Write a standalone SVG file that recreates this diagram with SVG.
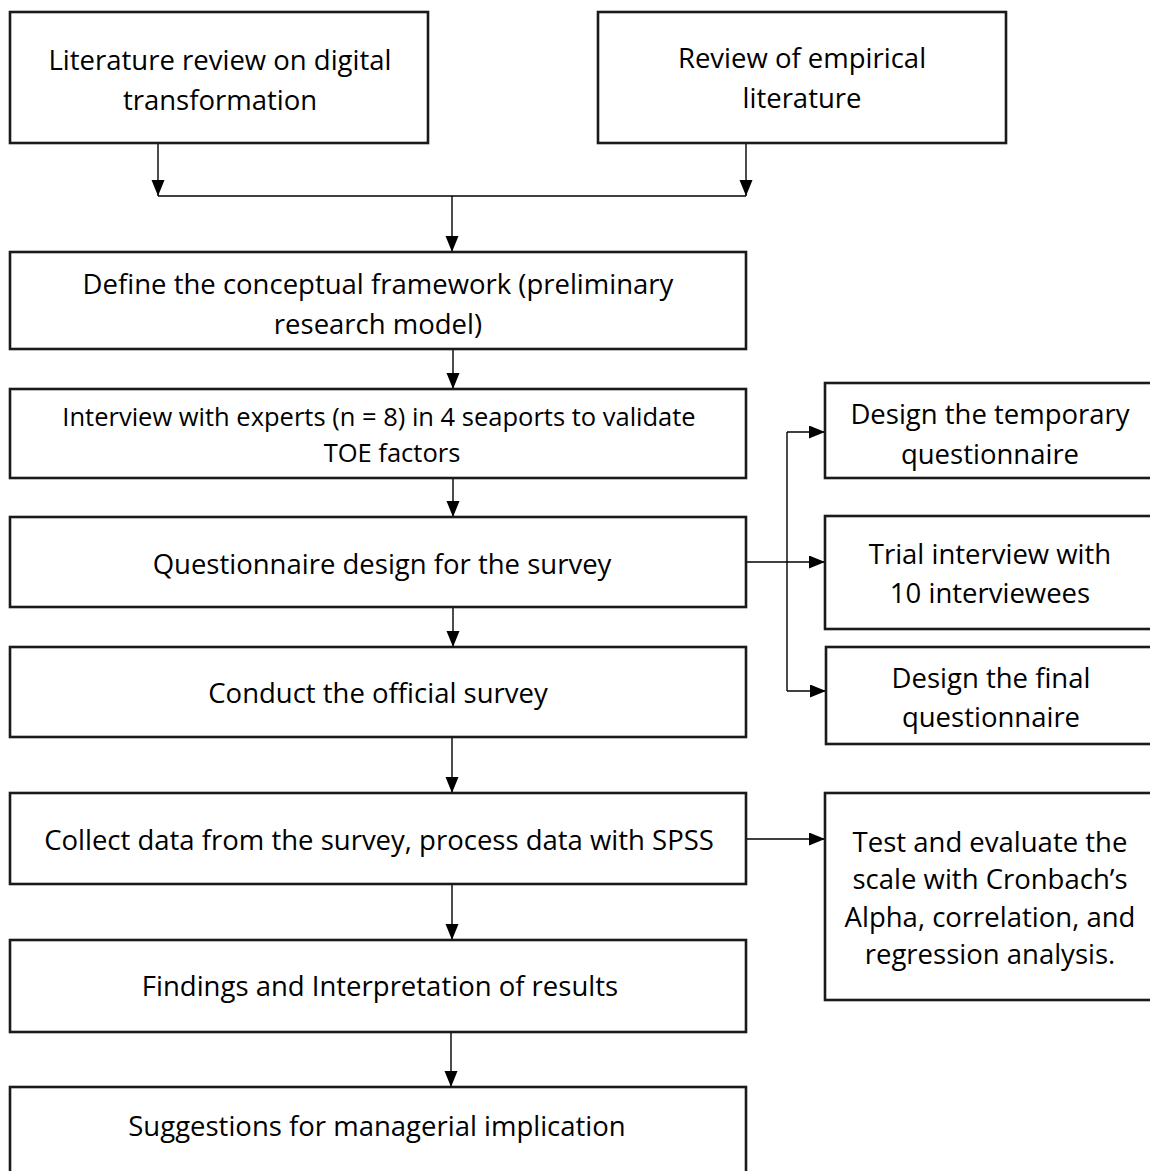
<svg xmlns="http://www.w3.org/2000/svg" width="1150" height="1171" viewBox="0 0 1150 1171">
<style>
  .box { fill: #ffffff; stroke: #1a1a1a; stroke-width: 2.6; }
  .t { font-family: "Open Sans", "Noto Sans", "Liberation Sans", sans-serif; font-size: 27.5px; fill: #000; text-anchor: middle; }
  .ts { font-size: 25.5px; }
  .c { fill: none; stroke: #000; stroke-width: 1.4; }
  .ca { fill: none; stroke: #000; stroke-width: 1.4; marker-end: url(#ah); }
</style>
<defs>
  <marker id="ah" markerUnits="userSpaceOnUse" markerWidth="17" markerHeight="14" refX="16" refY="6.5" orient="auto">
    <path d="M0,0 L16,6.5 L0,13 z" fill="#000"/>
  </marker>
</defs>
<rect width="1150" height="1171" fill="#ffffff"/>

<g id="connectors">
  <line class="ca" x1="158" y1="143" x2="158" y2="196"/>
  <line class="ca" x1="746" y1="143" x2="746" y2="196"/>
  <line class="c" x1="158" y1="196" x2="746" y2="196"/>
  <line class="ca" x1="452" y1="196" x2="452" y2="252"/>
  <line class="ca" x1="453" y1="349" x2="453" y2="389"/>
  <line class="ca" x1="453" y1="478" x2="453" y2="517"/>
  <line class="ca" x1="453" y1="607" x2="453" y2="647"/>
  <line class="ca" x1="452" y1="737" x2="452" y2="793"/>
  <line class="ca" x1="452" y1="884" x2="452" y2="940"/>
  <line class="ca" x1="451" y1="1032" x2="451" y2="1087"/>
  <line class="ca" x1="746" y1="562" x2="825" y2="562"/>
  <line class="c" x1="787" y1="432" x2="787" y2="691"/>
  <line class="ca" x1="787" y1="432" x2="825" y2="432"/>
  <line class="ca" x1="787" y1="691" x2="826" y2="691"/>
  <line class="ca" x1="746" y1="839" x2="825" y2="839"/>
</g>

<g id="node-lit-review">
  <rect class="box" x="10" y="12" width="418" height="131"/>
  <text class="t" x="220" y="70">Literature review on digital</text>
  <text class="t" x="220" y="110">transformation</text>
</g>
<g id="node-empirical">
  <rect class="box" x="598" y="12" width="408" height="131"/>
  <text class="t" x="802" y="68">Review of empirical</text>
  <text class="t" x="802" y="108">literature</text>
</g>
<g id="node-framework">
  <rect class="box" x="10" y="252" width="736" height="97"/>
  <text class="t" x="378" y="294">Define the conceptual framework (preliminary</text>
  <text class="t" x="378" y="334">research model)</text>
</g>
<g id="node-interview">
  <rect class="box" x="10" y="389" width="736" height="89"/>
  <text class="t ts" x="379" y="426">Interview with experts (n = 8) in 4 seaports to validate</text>
  <text class="t ts" x="392" y="462">TOE factors</text>
</g>
<g id="node-questionnaire">
  <rect class="box" x="10" y="517" width="736" height="90"/>
  <text class="t" x="382" y="574">Questionnaire design for the survey</text>
</g>
<g id="node-temporary">
  <rect class="box" x="825" y="383" width="340" height="95"/>
  <text class="t" x="990" y="424">Design the temporary</text>
  <text class="t" x="990" y="464">questionnaire</text>
</g>
<g id="node-trial">
  <rect class="box" x="825" y="516" width="340" height="113"/>
  <text class="t" x="990" y="564">Trial interview with</text>
  <text class="t" x="990" y="603">10 interviewees</text>
</g>
<g id="node-final">
  <rect class="box" x="826" y="647" width="340" height="97"/>
  <text class="t" x="991" y="688">Design the final</text>
  <text class="t" x="991" y="727">questionnaire</text>
</g>
<g id="node-conduct">
  <rect class="box" x="10" y="647" width="736" height="90"/>
  <text class="t" x="378" y="703">Conduct the official survey</text>
</g>
<g id="node-collect">
  <rect class="box" x="10" y="793" width="736" height="91"/>
  <text class="t" x="379" y="850">Collect data from the survey, process data with SPSS</text>
</g>
<g id="node-test">
  <rect class="box" x="825" y="793" width="340" height="207"/>
  <text class="t" x="990" y="852">Test and evaluate the</text>
  <text class="t" x="990" y="889">scale with Cronbach’s</text>
  <text class="t" x="990" y="927">Alpha, correlation, and</text>
  <text class="t" x="990" y="964">regression analysis.</text>
</g>
<g id="node-findings">
  <rect class="box" x="10" y="940" width="736" height="92"/>
  <text class="t" x="380" y="996">Findings and Interpretation of results</text>
</g>
<g id="node-suggestions">
  <rect class="box" x="10" y="1087" width="736" height="100"/>
  <text class="t" x="377" y="1136">Suggestions for managerial implication</text>
</g>
</svg>
